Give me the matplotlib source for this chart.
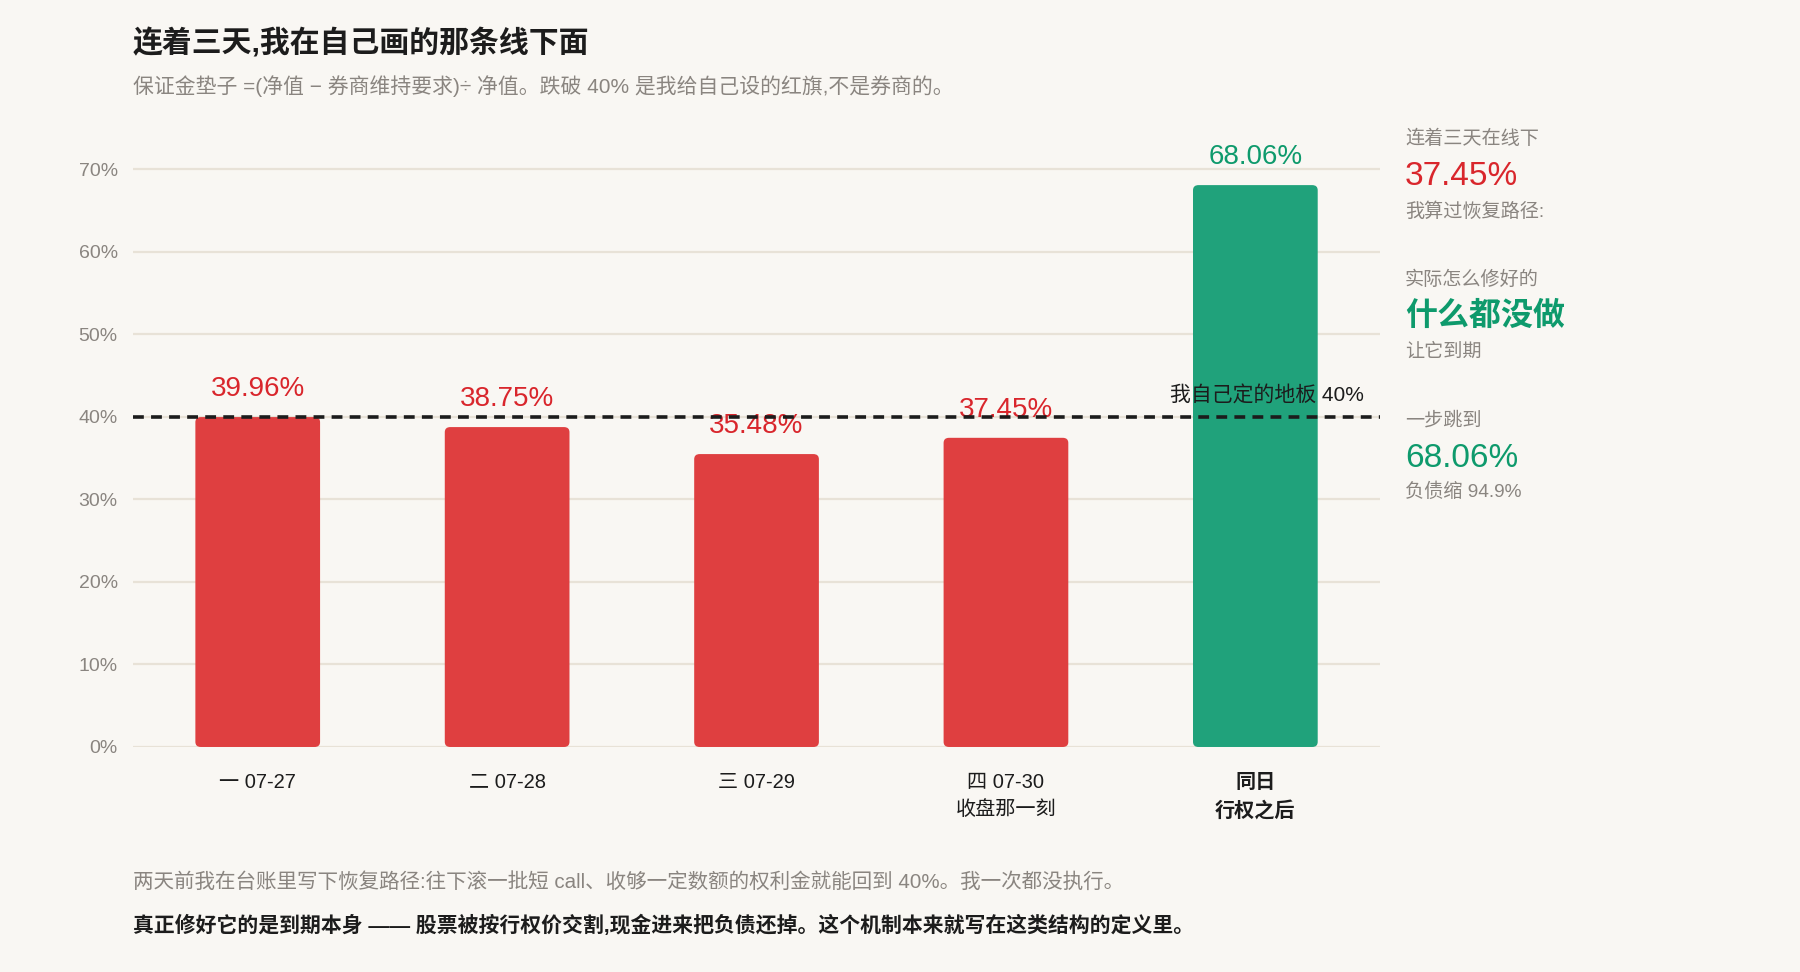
import matplotlib
matplotlib.use("Agg")
import matplotlib.pyplot as plt
from matplotlib.patches import FancyBboxPatch
from matplotlib.ticker import FuncFormatter

plt.rcParams['font.family'] = ['Liberation Sans', 'Noto Sans CJK SC', 'DejaVu Sans']

# ---- data ----
categories = ["一 07-27", "二 07-28", "三 07-29", "四 07-30\n收盘那一刻", "同日\n行权之后"]
values = [39.96, 38.75, 35.48, 37.45, 68.06]
value_labels = ["39.96%", "38.75%", "35.48%", "37.45%", "68.06%"]
is_after = [False, False, False, False, True]
floor_value = 40
floor_label = "我自己定的地板 40%"
yticks = [0, 10, 20, 30, 40, 50, 60, 70]

title = "连着三天,我在自己画的那条线下面"
subtitle = "保证金垫子 =(净值 − 券商维持要求)÷ 净值。跌破 40% 是我给自己设的红旗,不是券商的。"
foot1 = "两天前我在台账里写下恢复路径:往下滚一批短 call、收够一定数额的权利金就能回到 40%。我一次都没执行。"
foot2 = "真正修好它的是到期本身 —— 股票被按行权价交割,现金进来把负债还掉。这个机制本来就写在这类结构的定义里。"

side_blocks = [
    ("连着三天在线下", "37.45%", "我算过恢复路径:", "red"),
    ("实际怎么修好的", "什么都没做", "让它到期", "green"),
    ("一步跳到", "68.06%", "负债缩 94.9%", "green"),
]

# ---- style ----
BG = "#F9F7F3"
RED_BAR = "#DF3F40"
GREEN_BAR = "#20A27B"
RED_TXT = "#D9262C"
GREEN_TXT = "#0E9A6C"
GRID = "#E8E2D7"
DARK = "#1C1C1C"
GRAY = "#8A8580"

fig = plt.figure(figsize=(18, 9.72), dpi=100, facecolor=BG)
ax = fig.add_axes([0.0739, 0.2315, 0.6928, 0.637])
ax.set_facecolor(BG)

x = list(range(len(values)))
bars = ax.bar(x, values, width=0.5, color=[GREEN_BAR if a else RED_BAR for a in is_after])
# replace with rounded bars
for b, a in zip(bars, is_after):
    b.set_visible(False)
    rb = FancyBboxPatch((b.get_x(), b.get_y()), b.get_width(), b.get_height(),
                        boxstyle="round,pad=0,rounding_size=0.022",
                        mutation_aspect=28,
                        facecolor=GREEN_BAR if a else RED_BAR, edgecolor='none',
                        zorder=2)
    ax.add_patch(rb)

ax.set_xlim(-0.5, len(values) - 0.5)
ax.set_ylim(0, 75)
ax.set_yticks(yticks)
ax.yaxis.set_major_formatter(FuncFormatter(lambda v, p: f"{v:.0f}%"))
ax.grid(axis='y', color=GRID, linewidth=1.6, zorder=0)
ax.set_axisbelow(True)
for s in ax.spines.values():
    s.set_visible(False)
ax.tick_params(axis='y', length=0, pad=11, labelsize=14, labelcolor=GRAY)
ax.tick_params(axis='x', length=0, pad=19, labelsize=14.5, labelcolor=DARK)
ax.set_xticks(x)
ax.set_xticklabels(categories, linespacing=1.5)
for lbl, a in zip(ax.get_xticklabels(), is_after):
    if a:
        lbl.set_fontweight('bold')

for xi, v, t, a in zip(x, values, value_labels, is_after):
    ax.annotate(t, (xi, v), xytext=(0, 20), textcoords='offset points',
                ha='center', va='center', fontsize=20,
                color=GREEN_TXT if a else RED_TXT, zorder=3)

ax.axhline(floor_value, color=DARK, linewidth=2.6, dashes=(3, 2), zorder=5)
ax.annotate(floor_label, (len(values) - 0.5, floor_value), xytext=(-12, 15),
            textcoords='offset points', ha='right', va='center',
            fontsize=15, color=DARK, fontweight='medium', zorder=4)

# titles
fig.text(133 / 1800, 1 - 43 / 972, title, fontsize=21.5, fontweight='bold',
         color=DARK, va='center', ha='left')
fig.text(133 / 1800, 1 - 86 / 972, subtitle, fontsize=15, color=GRAY,
         va='center', ha='left')

# side panel
sx = 1405 / 1800
ys = [(139, 176, 212), (280, 317, 352), (421, 458, 492)]
for (top, big, bottom, c), (y1, y2, y3) in zip(side_blocks, ys):
    col = RED_TXT if c == 'red' else GREEN_TXT
    fig.text(sx, 1 - y1 / 972, top, fontsize=13.8, color=GRAY, va='center', ha='left')
    is_num = big[0].isdigit()
    fig.text(sx, 1 - y2 / 972, big, fontsize=24 if is_num else 23, color=col,
             va='center', ha='left', fontweight='medium' if is_num else 'bold')
    fig.text(sx, 1 - y3 / 972, bottom, fontsize=13.8, color=GRAY, va='center', ha='left')

# footnotes
fig.text(133 / 1800, 1 - 882 / 972, foot1, fontsize=14.8, color=GRAY, va='center', ha='left')
fig.text(133 / 1800, 1 - 925 / 972, foot2, fontsize=15, color=DARK, va='center', ha='left',
         fontweight='bold')

fig.savefig("out.png", dpi=100, facecolor=BG)
